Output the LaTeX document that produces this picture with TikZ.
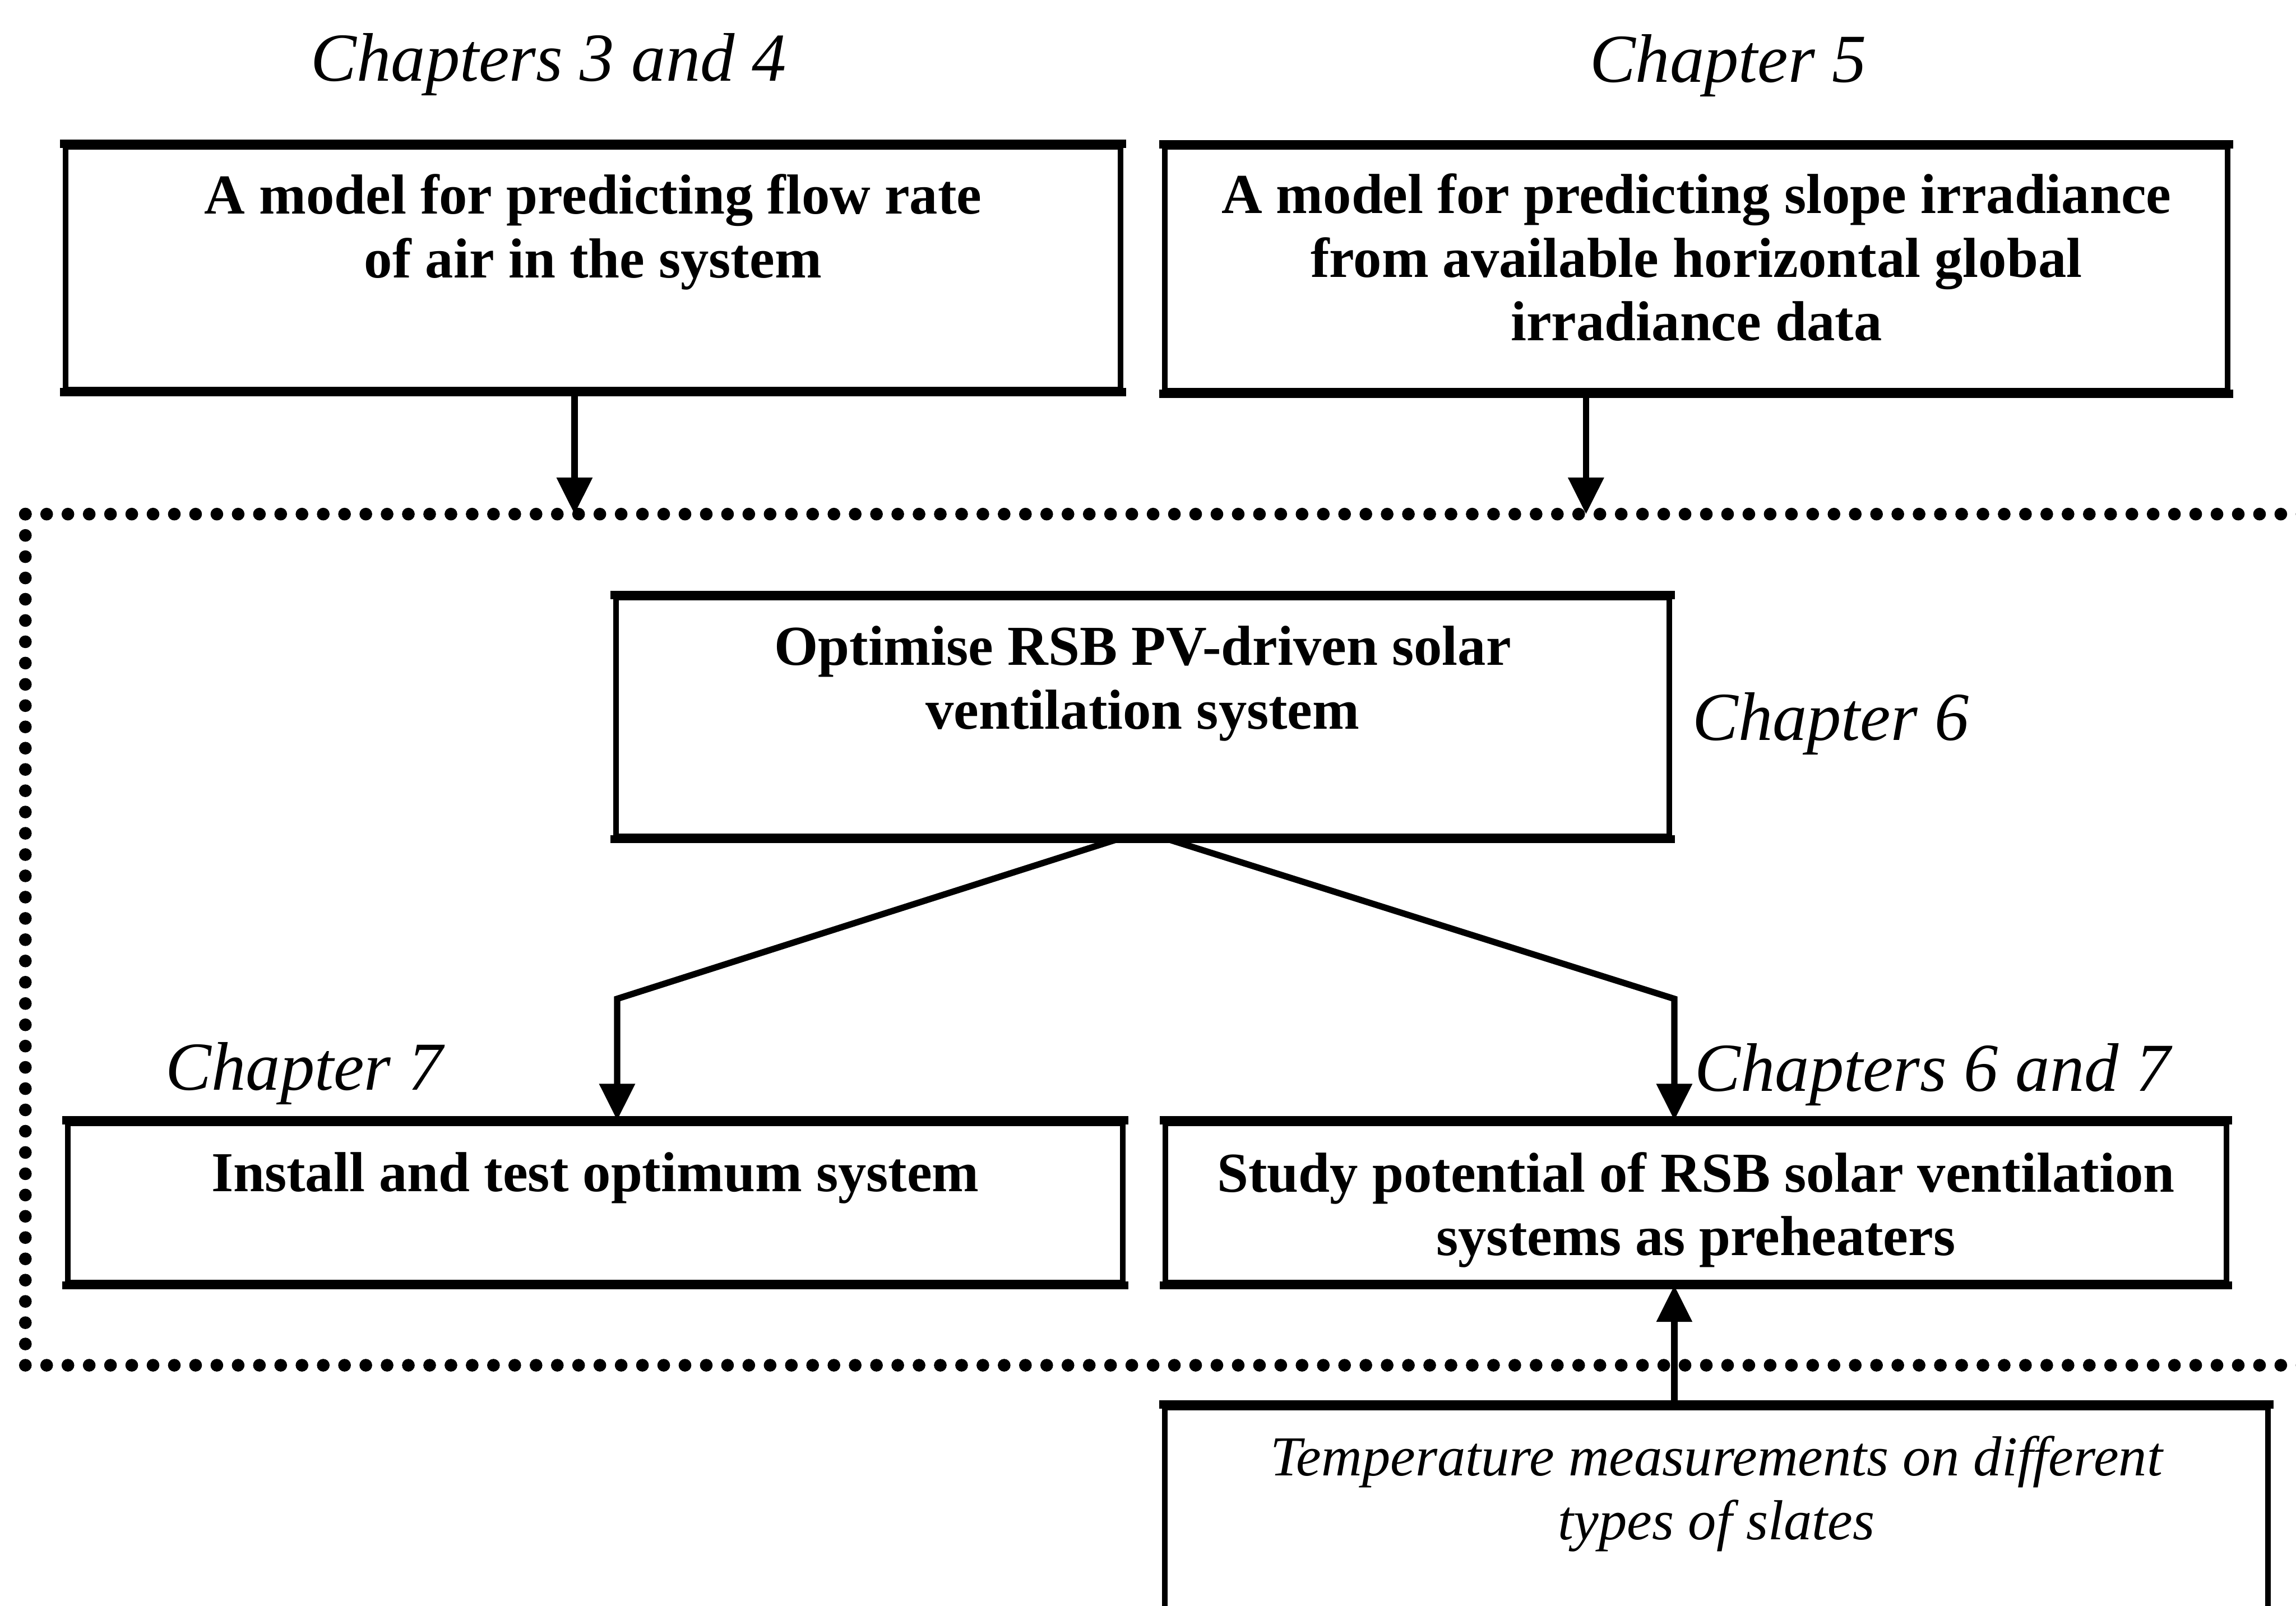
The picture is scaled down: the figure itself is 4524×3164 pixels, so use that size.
\documentclass[tikz,border=0pt]{standalone}
\usepackage{fontspec}
\setmainfont{Liberation Serif}
\usetikzlibrary{arrows.meta,calc}
\begin{document}
\begin{tikzpicture}[x=0.01cm,y=-0.01cm,
  box/.style={draw, line width=0.11cm, inner sep=0pt, rectangle},
  hedge/.style={line width=0.16cm, shorten <=-0.055cm, shorten >=-0.055cm},
  boxtext/.style={font=\fontsize{31.6}{35.6}\selectfont\bfseries, align=center, inner sep=0pt, anchor=base},
  notetext/.style={font=\fontsize{31.6}{35.6}\selectfont\itshape, align=center, inner sep=0pt, anchor=base},
  chap/.style={font=\fontsize{38.5}{44}\selectfont\itshape, inner sep=0pt, anchor=base west},
  link/.style={line width=0.125cm},
  arr/.style={link, -{Triangle[length=0.72cm,width=0.68cm]}},
  dotframe/.style={line width=0.25cm, line cap=round, dash pattern=on 0pt off 0.419cm}
]
\clip (0,0) rectangle (4524,3164);

% boxes
\node[box, minimum width=20.77cm, minimum height=4.78cm] (b1) at (1168.5,528) {};
\node[box, minimum width=20.93cm, minimum height=4.80cm] (b2) at (3342.5,530) {};
\node[box, minimum width=20.75cm, minimum height=4.70cm] (b3) at (2251.5,1413) {};
\node[box, minimum width=20.78cm, minimum height=3.14cm] (b4) at (1173,2370) {};
\node[box, minimum width=20.89cm, minimum height=3.14cm] (b5) at (3341.5,2370) {};
\node[box, minimum width=21.72cm, minimum height=5.27cm] (b6) at (3382,3036.5) {};

% heavier top and bottom rules of every box
\foreach \b in {b1,b2,b3,b4,b5,b6} {
  \draw[hedge] (\b.north west) -- (\b.north east);
  \draw[hedge] (\b.south west) -- (\b.south east);
}

% box texts (anchored at the baseline of their last line)
\node[boxtext] (t1) at (1168.5,547) {A model for predicting flow rate\\of air in the system};
\node[boxtext] (t2) at (3342.5,671) {A model for predicting slope irradiance\\from available horizontal global\\irradiance data};
\node[boxtext] (t3) at (2251.5,1436) {Optimise RSB PV-driven solar\\ventilation system};
\node[boxtext] (t4) at (1173,2348) {Install and test optimum system};
\node[boxtext] (t5) at (3341.5,2474) {Study potential of RSB solar ventilation\\systems as preheaters};
\node[notetext] (t6) at (3382,3033) {Temperature measurements on different\\types of slates};

% chapter labels
\node[chap, anchor=base] (c34) at (1081,160) {Chapters 3 and 4};
\node[chap, anchor=base] (c5) at (3405,162) {Chapter 5};
\node[chap] (c6) at (3334,1458) {Chapter 6};
\node[chap] (c7) at (326,2148) {Chapter 7};
\node[chap] (c67) at (3339,2150) {Chapters 6 and 7};

% dotted frame, open on the right
\coordinate (fTL) at (50,1013);
\coordinate (fBL) at (50,2690);
\draw[dotframe] (fTL) -- (4600,1013);
\draw[dotframe] (fTL) -- (fBL) -- (4600,2690);

% connectors
\coordinate (in1) at (1132,1013);
\coordinate (in2) at (3125,1013);
\coordinate (lbend) at (1216,1968);
\coordinate (rbend) at (3299,1968);
\draw[arr] (in1 |- b1.south) -- (in1);
\draw[arr] (in2 |- b2.south) -- (in2);
\draw[arr] ($(b3.south)+(-50,0)$) -- (lbend) -- (lbend |- b4.north);
\draw[arr] ($(b3.south)+(50,0)$) -- (rbend) -- (rbend |- b5.north);
\draw[arr] (rbend |- b6.north) -- (rbend |- b5.south);
\end{tikzpicture}
\end{document}
